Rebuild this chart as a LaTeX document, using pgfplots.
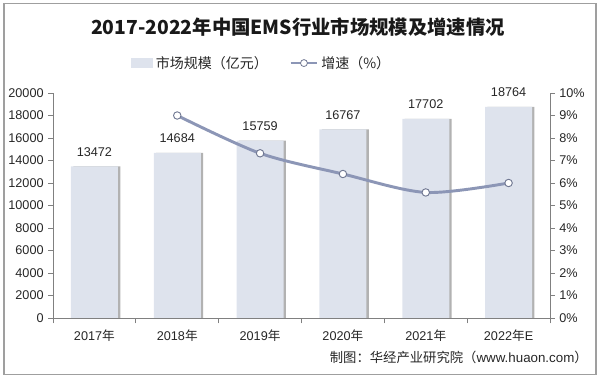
\documentclass[border=0pt]{standalone}
\usepackage{fontspec}
\setmainfont{Liberation Sans}
\newfontfamily\cjk{Noto Sans CJK SC}
\usepackage{pgfplots}
\pgfplotsset{compat=1.18}
\definecolor{barc}{RGB}{222,227,237}
\definecolor{linec}{RGB}{140,150,182}
\definecolor{axc}{RGB}{128,128,128}
\definecolor{txt}{RGB}{38,38,38}
\begin{document}
\begin{tikzpicture}
\useasboundingbox (0,0) rectangle (450pt,283.5pt);
\draw[gray!75, line width=0.8pt] (3pt,2.5pt) rectangle (447pt,281pt);
\begin{axis}[
  at={(39.75pt,45pt)}, anchor=south west, scale only axis,
  width=372.75pt, height=168.75pt,
  xmin=-0.5, xmax=5.5, ymin=0, ymax=20000,
  axis x line*=bottom, axis y line*=left,
  axis line style={axc, line width=0.6pt},
  tick align=outside, major tick length=3.5pt, minor tick length=4pt,
  tick style={axc, line width=0.6pt},
  xtick={0,...,5},
  xticklabels={2017{\cjk 年},2018{\cjk 年},2019{\cjk 年},2020{\cjk 年},2021{\cjk 年},2022{\cjk 年}E},
  major x tick style={draw=none},
  minor xtick={-0.5,0.5,...,5.5},
  ytick={0,2000,...,20000},
  scaled y ticks=false,
  /pgf/number format/assume math mode=true,
  /pgf/number format/1000 sep={},
  ticklabel style={font=\fontsize{9.5}{11}\selectfont, color=txt},
  xticklabel style={yshift=-2pt},
  legend style={at={(0.42,1.133)}, anchor=center, draw=none, fill=none,
    legend columns=2, font=\cjk\fontsize{10.5}{12}\selectfont, text=txt,
    /tikz/every even column/.append style={column sep=14pt},
    legend cell align=left},
]
\addplot[ybar, bar width=35.25pt, bar shift=1.8pt, fill=black!30, draw=none, forget plot]
  coordinates {(0,13472) (1,14684) (2,15759) (3,16767) (4,17702) (5,18764)};
\addplot[ybar, bar width=35.25pt, bar shift=0pt, fill=barc, draw=none,
  point meta=explicit symbolic, nodes near coords,
  nodes near coords style={font=\fontsize{9.5}{11}\selectfont, color=txt, yshift=4pt},
  legend image code/.code={\fill[barc] (0pt,-3.5pt) rectangle (17pt,3.5pt);}]
  coordinates {(0,13472)[13472] (1,14684)[14684] (2,15759)[15759] (3,16767)[16767] (4,17702)[17702] (5,18764)[18764]};
\addlegendentry{市场规模（亿元）}
\addlegendimage{legend image code/.code={\draw[linec, line width=2pt] (0pt,0pt)--(20pt,0pt); \draw[fill=white, draw=linec!80!black, line width=0.6pt] (10pt,0pt) circle (2.6pt);}}
\addlegendentry{增速（\%）}
\end{axis}
\begin{axis}[
  at={(39.75pt,45pt)}, anchor=south west, scale only axis,
  width=372.75pt, height=168.75pt,
  xmin=-0.5, xmax=5.5, ymin=0, ymax=10,
  axis x line=none, axis y line*=right,
  axis line style={axc, line width=0.6pt},
  tick align=outside, major tick length=3.5pt,
  tick style={axc, line width=0.6pt},
  ytick={0,...,10},
  /pgf/number format/assume math mode=true,
  yticklabel={\pgfmathprintnumber{\tick}\%},
  ticklabel style={font=\fontsize{9.5}{11}\selectfont, color=txt},
]
\addplot[smooth, color=linec, line width=2.2pt, mark=*, mark size=2.8pt,
  mark options={fill=white, draw=linec!80!black, line width=0.7pt}]
  coordinates {(1,9.00) (2,7.32) (3,6.40) (4,5.58) (5,6.00)};
\end{axis}
\node[font=\cjk\bfseries\fontsize{14.5}{17}\selectfont, text=black!90] at (223.5pt,263.5pt) {2017-2022年中国EMS行业市场规模及增速情况};
\node[anchor=east, font=\fontsize{10}{12}\selectfont, text=txt, inner sep=0pt] at (441pt,15.75pt) {{\cjk 制图：华经产业研究院（}www.huaon.com{\cjk ）}};
\end{tikzpicture}
\end{document}
